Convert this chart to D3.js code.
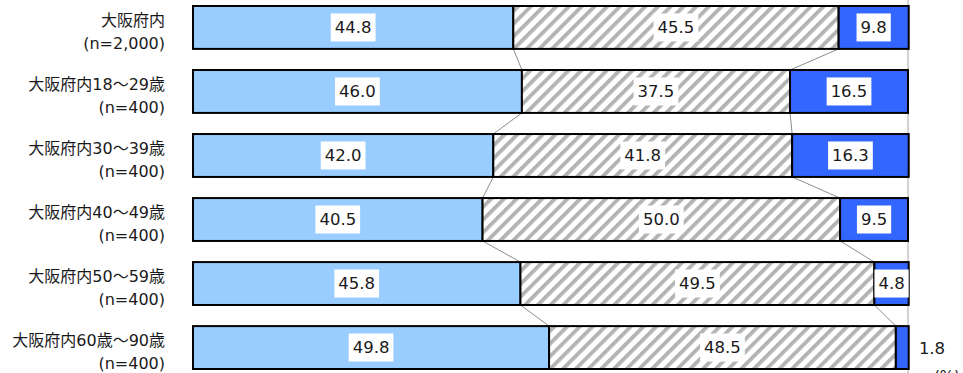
<!DOCTYPE html>
<html>
<head>
<meta charset="utf-8">
<script src="https://cdn.jsdelivr.net/npm/d3@7"></script>
<style>
body { margin: 0; background: #fff; }
text { font-family: "DejaVu Sans", "Noto Sans CJK JP", sans-serif; fill: #1a1a1a; }
</style>
</head>
<body>
<div class="chart"></div>
<script>
const groups = ['大阪府内', '大阪府内18～29歳', '大阪府内30～39歳', '大阪府内40～49歳', '大阪府内50～59歳', '大阪府内60歳～90歳'];
const samples = ['(n=2,000)', '(n=400)', '(n=400)', '(n=400)', '(n=400)', '(n=400)'];
const seriesA = [44.8, 46.0, 42.0, 40.5, 45.8, 49.8];
const seriesB = [45.5, 37.5, 41.8, 50.0, 49.5, 48.5];
const seriesC = [9.8, 16.5, 16.3, 9.5, 4.8, 1.8];
const unitLabel = '(%)';

const width = 963, height = 373;

const svg = d3.select('.chart').append('svg')
	.attr('width', width)
	.attr('height', height);

const defs = svg.append('defs');
const pat = defs.append('pattern')
	.attr('id', 'hatch')
	.attr('patternUnits', 'userSpaceOnUse')
	.attr('width', 9)
	.attr('height', 9)
	.attr('patternTransform', 'rotate(45)');
pat.append('rect').attr('width', 9).attr('height', 9).attr('fill', '#fff');
pat.append('rect').attr('x', 0).attr('width', 3.8).attr('height', 9).attr('fill', '#b3b3b3');

const xScale = d3.scaleLinear()
	.domain([0, 100])
	.range([193, 908]);

const yScale = d3.scaleBand()
	.domain(groups)
	.range([6, 369])
	.paddingInner(0.33)
	.paddingOuter(0);

const fills = ['#99ccff', 'url(#hatch)', '#3366ff'];

const rows = groups.map((g, i) => {
	const vals = [seriesA[i], seriesB[i], seriesC[i]];
	let cum = 0;
	const segs = vals.map((v, k) => {
		const s = {group: g, value: v, k: k, x0: cum, x1: cum + v};
		cum += v;
		return s;
	});
	return {group: g, sample: samples[i], segs: segs};
});

// right axis line
svg.append('line')
	.attr('x1', xScale(100)).attr('x2', xScale(100))
	.attr('y1', 0).attr('y2', height)
	.attr('stroke', '#a6a6a6')
	.attr('stroke-width', 1);

// connector lines between bars
for (let i = 0; i < rows.length - 1; i++) {
	[0, 1].forEach(k => {
		svg.append('line')
			.attr('x1', xScale(rows[i].segs[k].x1))
			.attr('y1', yScale(rows[i].group) + yScale.bandwidth())
			.attr('x2', xScale(rows[i + 1].segs[k].x1))
			.attr('y2', yScale(rows[i + 1].group))
			.attr('stroke', '#707070')
			.attr('stroke-width', 0.8);
	});
}

const rowG = svg.selectAll('.row')
	.data(rows)
	.enter()
	.append('g')
	.attr('class', 'row');

rowG.selectAll('rect')
	.data(d => d.segs)
	.enter()
	.append('rect')
	.attr('x', d => xScale(d.x0))
	.attr('y', d => yScale(d.group))
	.attr('width', d => xScale(d.x1) - xScale(d.x0))
	.attr('height', yScale.bandwidth())
	.attr('fill', d => fills[d.k])
	.attr('stroke', '#000')
	.attr('stroke-width', 2);

// value labels
rows.forEach(r => {
	r.segs.forEach(s => {
		const cy = yScale(s.group) + yScale.bandwidth() / 2;
		const txt = s.value.toFixed(1);
		if (s.value < 3) {
			svg.append('text')
				.attr('x', xScale(100) + 24)
				.attr('y', cy + 1)
				.attr('text-anchor', 'middle')
				.attr('dominant-baseline', 'central')
				.style('font-size', '16.5px')
				.text(txt);
			return;
		}
		const cx = (xScale(s.x0) + xScale(s.x1)) / 2;
		const t = svg.append('text')
			.attr('x', cx)
			.attr('y', cy)
			.attr('text-anchor', 'middle')
			.attr('dominant-baseline', 'central')
			.style('font-size', '16.5px')
			.text(txt);
		const bb = t.node().getBBox();
		svg.insert('rect', () => t.node())
			.attr('x', cx - bb.width / 2 - 4)
			.attr('y', cy - 14)
			.attr('width', bb.width + 8)
			.attr('height', 28)
			.attr('fill', '#fff');
	});
});

// category labels
rowG.append('text')
	.attr('x', 165)
	.attr('y', d => yScale(d.group) + 14)
	.attr('text-anchor', 'end')
	.attr('dominant-baseline', 'central')
	.style('font-size', '16px')
	.text(d => d.group);

rowG.append('text')
	.attr('x', 165)
	.attr('y', d => yScale(d.group) + 37)
	.attr('text-anchor', 'end')
	.attr('dominant-baseline', 'central')
	.style('font-size', '16px')
	.text(d => d.sample);

svg.append('text')
	.attr('x', 934)
	.attr('y', 382)
	.style('font-size', '15px')
	.text(unitLabel);
</script>
</body>
</html>
